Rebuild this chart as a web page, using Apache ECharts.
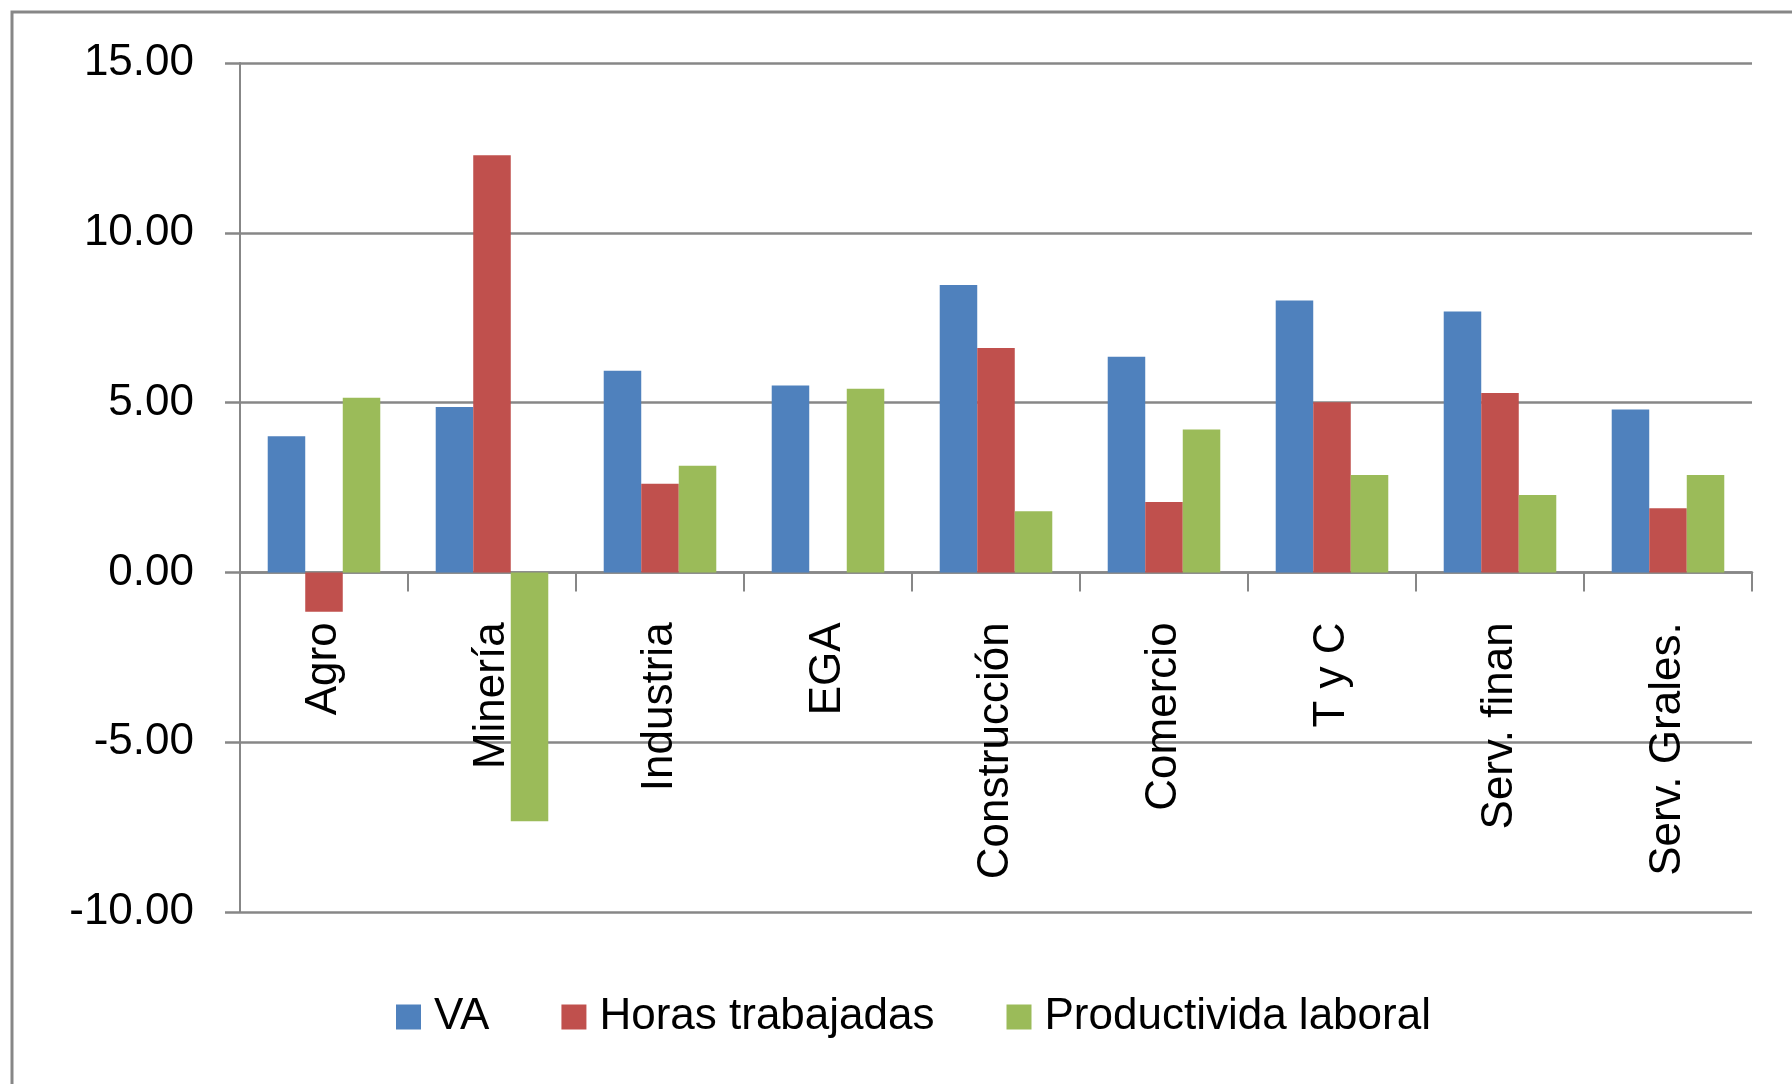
<!DOCTYPE html>
<html><head><meta charset="utf-8">
<script src="https://cdn.jsdelivr.net/npm/echarts@6/dist/echarts.min.js"></script>
<style>html,body{margin:0;padding:0;background:#fff}#c{width:1792px;height:1084px}</style>
</head><body><div id="c"></div>
<script>
const categories = ['Agro','Minería','Industria','EGA','Construcción','Comercio','T y C','Serv. finan','Serv. Grales.'];
const seriesNames = ['VA','Horas trabajadas','Productivida laboral'];
const va = [4.01, 4.87, 5.94, 5.50, 8.46, 6.35, 8.01, 7.68, 4.80];
const horas = [-1.16, 12.28, 2.61, 0, 6.61, 2.07, 5.01, 5.28, 1.89];
const productividad = [5.14, -7.33, 3.14, 5.41, 1.80, 4.21, 2.87, 2.28, 2.87];
const yTicks = [-10, -5, 0, 5, 10, 15];
const colors = ['#4F81BD','#C0504D','#9BBB59'];
const FONT = 'Liberation Sans';
const gray = '#878787';

const GRID_TOP = 63, GRID_BOTTOM = 172, H = 1084;
const plotH = H - GRID_TOP - GRID_BOTTOM;
const yMin = yTicks[0], yMax = yTicks[yTicks.length-1];
// pixel distance from plot bottom up to the zero value line
const zeroOffset = plotH * (0 - yMin) / (yMax - yMin);

const chart = echarts.init(document.getElementById('c'));
chart.setOption({
  animation: false,
  textStyle: {fontFamily: FONT},
  graphic: [{
    type: 'rect', shape: {x: 12, y: 12, width: 2000, height: 2000},
    style: {fill: 'none', stroke: gray, lineWidth: 3}
  }],
  legend: {
    left: 391, top: 990,
    itemWidth: 25, itemHeight: 25, itemGap: 72,
    icon: 'rect',
    textStyle: {fontFamily: FONT, fontSize: 44, color: '#000', padding: [0,0,0,8]},
    data: seriesNames
  },
  grid: {left: 240, right: 40, top: GRID_TOP, bottom: GRID_BOTTOM, containLabel: false, outerBoundsMode: 'none'},
  xAxis: {
    type: 'category', data: categories,
    offset: -zeroOffset,
    axisLine: {onZero: false, lineStyle: {color: gray, width: 2.5}},
    axisTick: {show: true, length: 19, lineStyle: {color: gray, width: 2}},
    axisLabel: {rotate: 90, margin: 50, fontSize: 44, color: '#000', fontFamily: FONT, interval: 0}
  },
  yAxis: {
    type: 'value', min: yMin, max: yMax, interval: 5,
    axisLine: {show: true, lineStyle: {color: gray, width: 2}},
    axisTick: {show: true, length: 15, lineStyle: {color: gray, width: 2.5}},
    splitLine: {show: true, lineStyle: {color: gray, width: 2.5}},
    axisLabel: {margin: 46, fontSize: 44, color: '#000', fontFamily: FONT,
      formatter: v => v.toFixed(2)}
  },
  series: [va, horas, productividad].map((d, i) => ({
    name: seriesNames[i], type: 'bar', data: d,
    barGap: '0%', barCategoryGap: '33%',
    itemStyle: {color: colors[i]}
  }))
});
</script></body></html>
